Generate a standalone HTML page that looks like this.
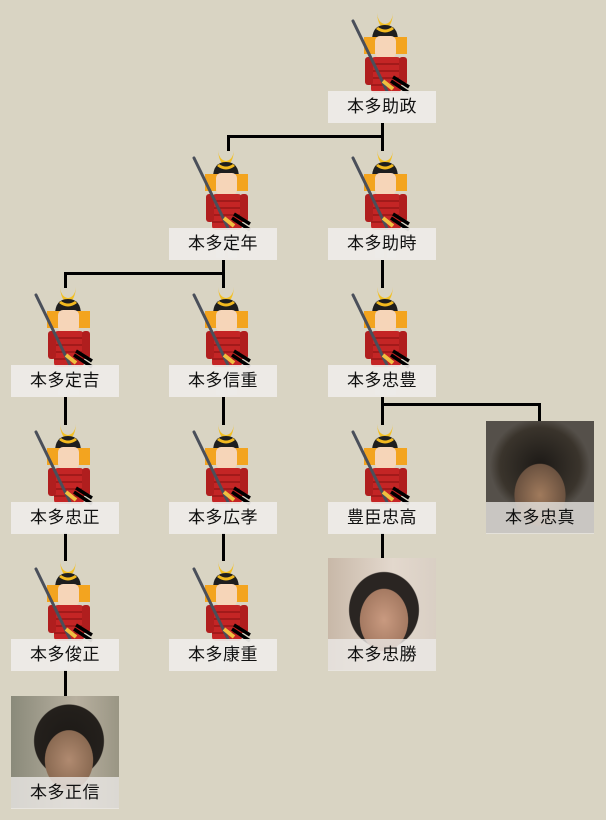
<!DOCTYPE html>
<html><head><meta charset="utf-8"><style>
html,body{margin:0;padding:0}
body{width:606px;height:820px;background:#d9d4c3;position:relative;overflow:hidden;font-family:"Liberation Sans","Noto Sans CJK JP",sans-serif}
.lbl{position:absolute;width:108px;height:32px;background:rgba(238,236,232,0.93);color:#111;font-size:17px;line-height:32px;text-align:center;letter-spacing:0.5px}
.ic{position:absolute;width:70px;height:112px}
.ph{position:absolute;width:108px;height:112px;overflow:hidden}
.ln{position:absolute;background:#000}
</style></head><body>
<svg width="0" height="0" style="position:absolute"><defs>
<g id="sam">
<rect x="28" y="80" width="9" height="30" fill="#e2ded8"/>
<rect x="40" y="80" width="9" height="30" fill="#e2ded8"/>
<path d="M30 2 Q31 16 38 18 Q45 16 46 2 Q45 12 38 13 Q31 12 30 2Z" fill="#f2c026"/>
<path d="M25 30 Q25 14 38 14 Q51 14 51 30Z" fill="#1e1e1e"/>
<path d="M29 18 Q38 25 47 18 L45 16 Q38 21 31 16Z" fill="#f2b91f"/>
<rect x="17" y="26" width="13" height="17" fill="#f3a41f"/>
<rect x="47" y="26" width="13" height="17" fill="#f3a41f"/>
<rect x="28" y="25" width="21" height="22" rx="5" fill="#f6d5b8"/>
<rect x="24" y="46" width="30" height="36" rx="4" fill="#c42525"/>
<path d="M24 53 H54 M24 60 H54 M24 67 H54 M24 74 H54" stroke="#8d1515" stroke-width="1.2"/>
<rect x="18" y="46" width="8" height="28" rx="3" fill="#b01e1e"/>
<rect x="52" y="46" width="8" height="28" rx="3" fill="#b01e1e"/>
<line x1="6" y1="10" x2="40" y2="80" stroke="#4a4f5a" stroke-width="3" stroke-linecap="round"/>
<path d="M36 70 L46 78" stroke="#f0c040" stroke-width="4"/>
<path d="M44 70 L62 82 M46 66 L62 76" stroke="#000" stroke-width="3.5"/>
</g></defs></svg>

<!-- connectors -->
<div class="ln" style="left:381px;top:123px;width:3px;height:14px"></div>
<div class="ln" style="left:227px;top:135px;width:157px;height:3px"></div>
<div class="ln" style="left:227px;top:135px;width:3px;height:16px"></div>
<div class="ln" style="left:381px;top:135px;width:3px;height:16px"></div>

<div class="ln" style="left:222px;top:260px;width:3px;height:14px"></div>
<div class="ln" style="left:64px;top:272px;width:161px;height:3px"></div>
<div class="ln" style="left:64px;top:272px;width:3px;height:16px"></div>
<div class="ln" style="left:222px;top:272px;width:3px;height:16px"></div>
<div class="ln" style="left:381px;top:260px;width:3px;height:28px"></div>

<div class="ln" style="left:381px;top:397px;width:3px;height:28px"></div>
<div class="ln" style="left:381px;top:403px;width:160px;height:3px"></div>
<div class="ln" style="left:538px;top:403px;width:3px;height:19px"></div>
<div class="ln" style="left:64px;top:397px;width:3px;height:28px"></div>
<div class="ln" style="left:222px;top:397px;width:3px;height:28px"></div>

<div class="ln" style="left:64px;top:533px;width:3px;height:28px"></div>
<div class="ln" style="left:222px;top:533px;width:3px;height:28px"></div>
<div class="ln" style="left:381px;top:533px;width:3px;height:26px"></div>

<div class="ln" style="left:64px;top:670px;width:3px;height:27px"></div>

<!-- icons -->
<svg class="ic" style="left:347px;top:11px" viewBox="0 0 70 112"><use href="#sam"/></svg>
<svg class="ic" style="left:188px;top:148px" viewBox="0 0 70 112"><use href="#sam"/></svg>
<svg class="ic" style="left:347px;top:148px" viewBox="0 0 70 112"><use href="#sam"/></svg>
<svg class="ic" style="left:30px;top:285px" viewBox="0 0 70 112"><use href="#sam"/></svg>
<svg class="ic" style="left:188px;top:285px" viewBox="0 0 70 112"><use href="#sam"/></svg>
<svg class="ic" style="left:347px;top:285px" viewBox="0 0 70 112"><use href="#sam"/></svg>
<svg class="ic" style="left:30px;top:422px" viewBox="0 0 70 112"><use href="#sam"/></svg>
<svg class="ic" style="left:188px;top:422px" viewBox="0 0 70 112"><use href="#sam"/></svg>
<svg class="ic" style="left:347px;top:422px" viewBox="0 0 70 112"><use href="#sam"/></svg>
<svg class="ic" style="left:30px;top:559px" viewBox="0 0 70 112"><use href="#sam"/></svg>
<svg class="ic" style="left:188px;top:559px" viewBox="0 0 70 112"><use href="#sam"/></svg>

<!-- photos -->
<div class="ph" style="left:486px;top:421px;background:radial-gradient(ellipse 36px 44px at 54px 74px,#a07a5c,#6b5240 70%,transparent 72%),radial-gradient(ellipse 50px 48px at 54px 45px,#1c1916,#3a342c 80%,#55504a)"></div>
<div class="ph" style="left:328px;top:558px;background:radial-gradient(ellipse 34px 44px at 56px 62px,#c99a80,#a57a62 70%,transparent 72%),radial-gradient(ellipse 46px 50px at 56px 52px,#2a2522,#2a2522 75%,transparent 77%),linear-gradient(90deg,#c8b8a8,#e3d8cd 60%,#d9cfc4)"></div>
<div class="ph" style="left:11px;top:696px;background:radial-gradient(ellipse 34px 42px at 58px 64px,#b08a70,#8a6a52 70%,transparent 72%),radial-gradient(ellipse 46px 48px at 58px 45px,#1c1916,#24201c 75%,transparent 77%),linear-gradient(90deg,#8a8a7a,#b8b0a0 60%,#9a9684)"></div>

<!-- labels -->
<div class="lbl" style="left:328px;top:91px">本多助政</div>
<div class="lbl" style="left:169px;top:228px">本多定年</div>
<div class="lbl" style="left:328px;top:228px">本多助時</div>
<div class="lbl" style="left:11px;top:365px">本多定吉</div>
<div class="lbl" style="left:169px;top:365px">本多信重</div>
<div class="lbl" style="left:328px;top:365px">本多忠豊</div>
<div class="lbl" style="left:11px;top:502px">本多忠正</div>
<div class="lbl" style="left:169px;top:502px">本多広孝</div>
<div class="lbl" style="left:328px;top:502px">豊臣忠高</div>
<div class="lbl" style="left:486px;top:502px;background:rgba(230,228,224,0.8)">本多忠真</div>
<div class="lbl" style="left:11px;top:639px">本多俊正</div>
<div class="lbl" style="left:169px;top:639px">本多康重</div>
<div class="lbl" style="left:328px;top:639px;background:rgba(235,233,230,0.8)">本多忠勝</div>
<div class="lbl" style="left:11px;top:777px;background:rgba(235,233,230,0.8)">本多正信</div>
</body></html>
